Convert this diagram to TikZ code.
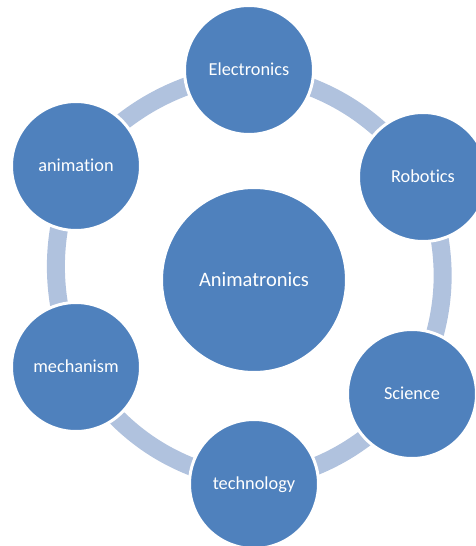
\documentclass[tikz,border=0pt]{standalone}
\usepackage{fontspec}
\setmainfont[RawFeature={-liga}]{Carlito}
\usetikzlibrary{backgrounds}
\definecolor{nodeblue}{HTML}{4F81BD}
\definecolor{ringblue}{HTML}{B0C2DE}
\begin{document}
\begin{tikzpicture}[x=1pt,y=-1pt,
  topic/.style={circle,fill=nodeblue,draw=white,line width=3pt,
    minimum size=129pt,inner sep=0pt,text=white,
    text height=11.8pt,text depth=0pt,
    font=\fontsize{18.3}{22}\selectfont},
  hub/.style={topic,minimum size=185pt,text height=13.2pt,
    font=\fontsize{20.5}{24}\selectfont},
  ring/.style={draw=ringblue,line width=18pt}]
\useasboundingbox (0,0) rectangle (476,546);

% centre and surrounding topics
\node[hub]   (hub)  at (254,280) {Animatronics};
\node[topic] (elec) at (249,70)  {Electronics};
\node[topic] (robo) at (423,177) {Robotics};
\node[topic] (sci)  at (412,394) {Science};
\node[topic] (tech) at (254,484) {technology};
\node[topic] (mech) at (76,367)  {mechanism};
\node[topic] (anim) at (76,166)  {animation};

% ring segments behind the circles
\begin{pgfonlayer}{background}
  \draw[ring] (elec.center) to[bend left=21] (robo.center);
  \draw[ring] (robo.center) to[bend left=23] (sci.center);
  \draw[ring] (sci.center)  to[bend left=18.5] (tech.center);
  \draw[ring] (tech.center) to[bend left=23] (mech.center);
  \draw[ring] (mech.center) to[bend left=20] (anim.center);
  \draw[ring] (anim.center) to[bend left=19] (elec.center);
\end{pgfonlayer}
\end{tikzpicture}
\end{document}
